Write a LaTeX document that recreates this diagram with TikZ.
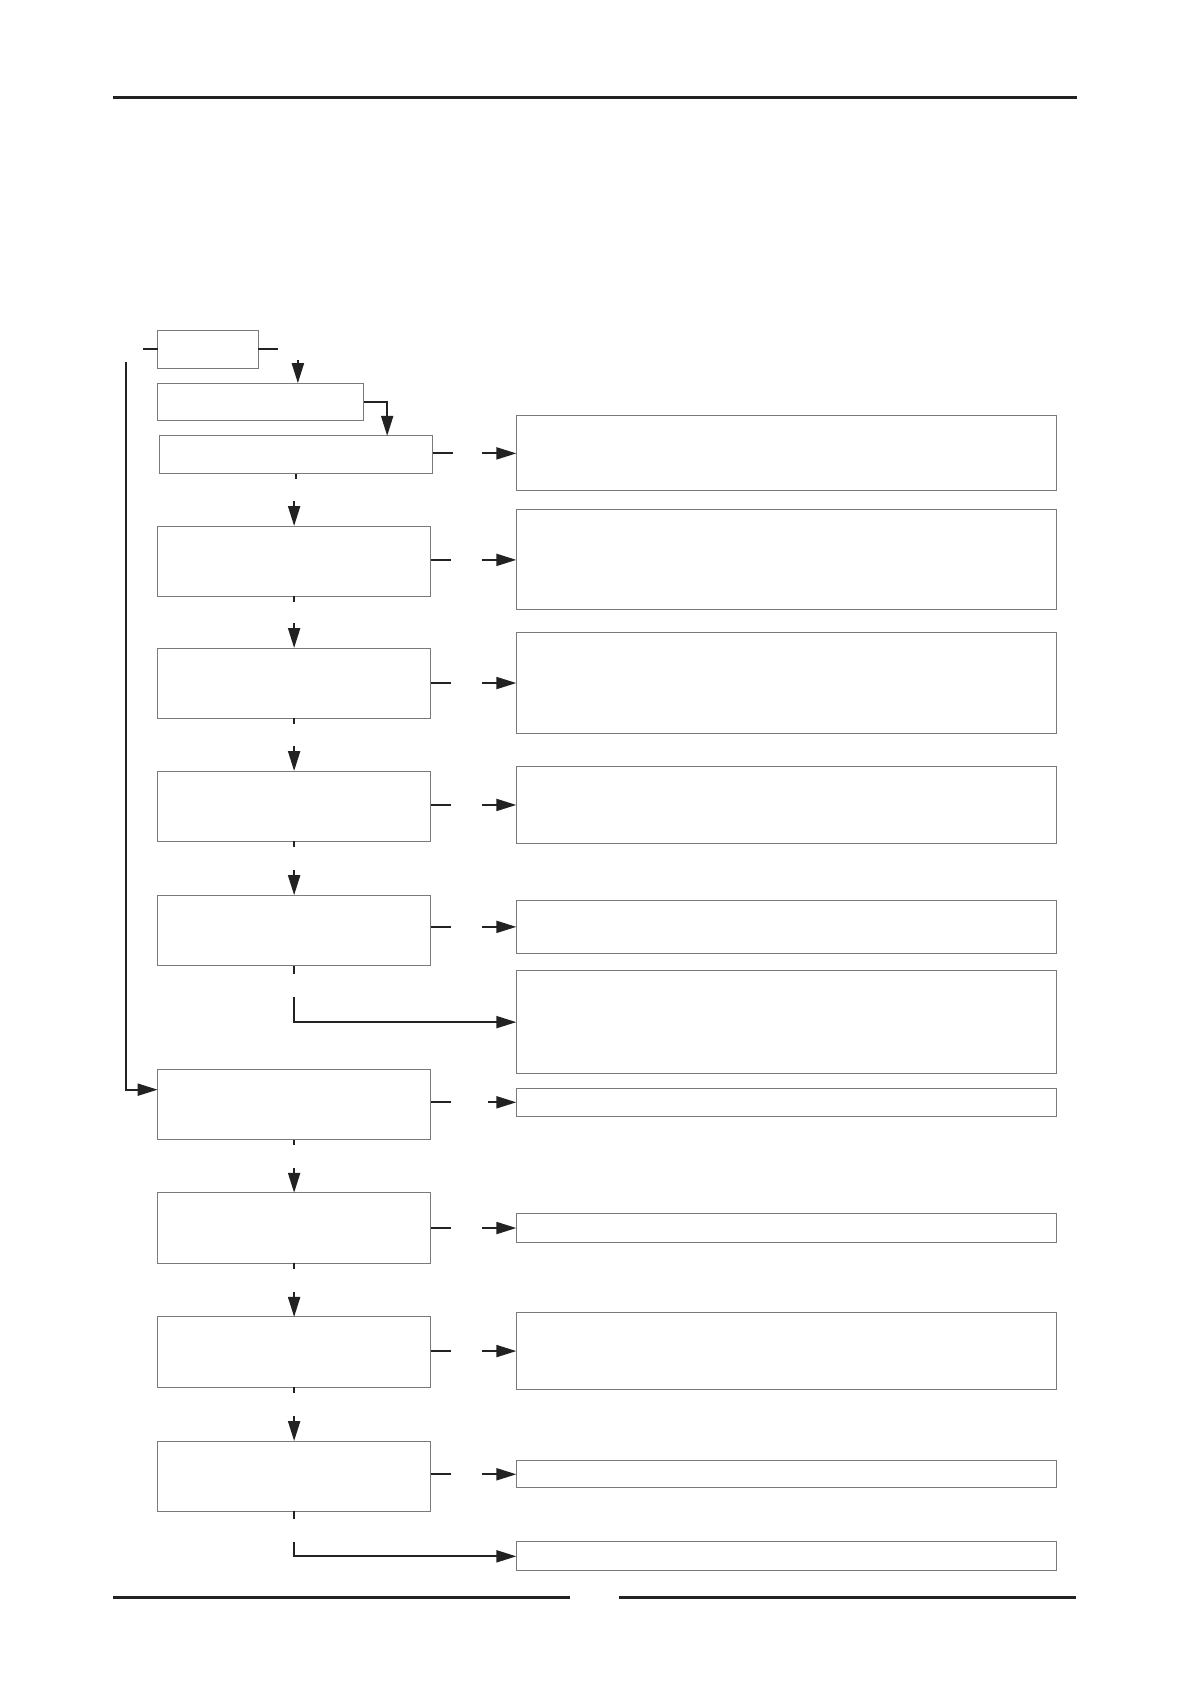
\documentclass[tikz,border=0pt]{standalone}
\usetikzlibrary{arrows.meta}
\usetikzlibrary{calc}
\usepackage{xcolor}

\newlength{\pxu}
\setlength{\pxu}{0.53745pt}

\definecolor{inkline}{HTML}{222222}
\definecolor{boxline}{HTML}{7A7A7A}

\begin{document}
\begin{tikzpicture}[x=0.53745pt,y=-0.53745pt,
    blk/.style 2 args={draw=boxline, line width=0.5pt, anchor=north west,
      inner sep=0pt, outer sep=0pt, minimum width=#1*\pxu, minimum height=#2*\pxu},
    link/.style={draw=inkline, line width=1pt},
    go/.style={link, -{Triangle[length=10pt,width=6pt]}}]

        \useasboundingbox (0,0) rectangle (1108,1568);

        % Page rules
        \draw[inkline, line width=1.5pt] (105,90.3) -- (1002,90.3);
        \draw[inkline, line width=1.5pt] (105.4,1487) -- (530.3,1487);
        \draw[inkline, line width=1.5pt] (575.9,1487) -- (1001.7,1487);

        % Left column
        \node[blk={93.6}{34.9}] (L0) at (146.7,307.7) {};
        \node[blk={191.7}{34.8}] (L1) at (146.7,356.6) {};
        \node[blk={254.3}{35.1}] (L2) at (148.2,405.6) {};
        \foreach \n/\y in {3/489.5,4/603,5/717.5,6/833,7/995,8/1110,9/1225.5,10/1341}
        {
          \node[blk={254}{65.5}] (L\n) at (146.7,\y) {};
        }

        % Right column
        \foreach \n/\t/\b in {1/387/456.8, 2/474.5/567.5, 3/588.3/682.9, 4/713.5/784.6,
                              5/838/887, 6/903/999.3, 7/1012.5/1039, 8/1129.6/1155.9,
                              9/1221.3/1293.2, 10/1359.2/1384.6, 11/1434.9/1461.6}
        {
          \pgfmathsetmacro{\hh}{\b-\t}
          \node[blk={503}{\hh}] (R\n) at (480.5,\t) {};
        }

        % Start of the chain
        \draw[link] (L0.west) -- ++(-14,0);
        \draw[link] (L0.east) -- ++(18.4,0);
        \coordinate (T1) at (277.2,335);
        \draw[go] (T1) -- (T1 |- L1.north);
        \draw[go] (L1.east) -| ($(L2.north west)+(212.1,0)$);

        % Return line
        \coordinate (F0) at (117,336.5);
        \draw[go] (F0) |- ($(L7.north west)+(0,19)$);

        % Down the left column
        \foreach \a/\b in {2/3,3/4,4/5,5/6,7/8,8/9,9/10}
        {
          \draw[link] (L\a.south) -- ++(0,5);
          \draw[go] ($(L\b.north)+(0,-23)$) -- (L\b.north);
        }

        % Across to the right column
        \foreach \a/\b/\g in {2/1/32,3/2/32,4/3/32,5/4/32,6/5/32,7/7/26.5,8/8/32,9/9/32,10/10/32}
        {
          \coordinate (S\b) at (L\a.east |- R\b.west);
          \draw[link] (S\b) -- ++(19,0);
          \draw[go] ($(R\b.west)+(-\g,0)$) -- (R\b.west);
        }

        % Branches
        \draw[link] (L6.south) -- ++(0,8);
        \draw[go] ($(L6.south)+(0,29)$) |- (R6.west);
        \draw[link] (L10.south) -- ++(0,7);
        \draw[go] ($(L10.south)+(0,28)$) |- (R11.west);

\end{tikzpicture}
\end{document}
